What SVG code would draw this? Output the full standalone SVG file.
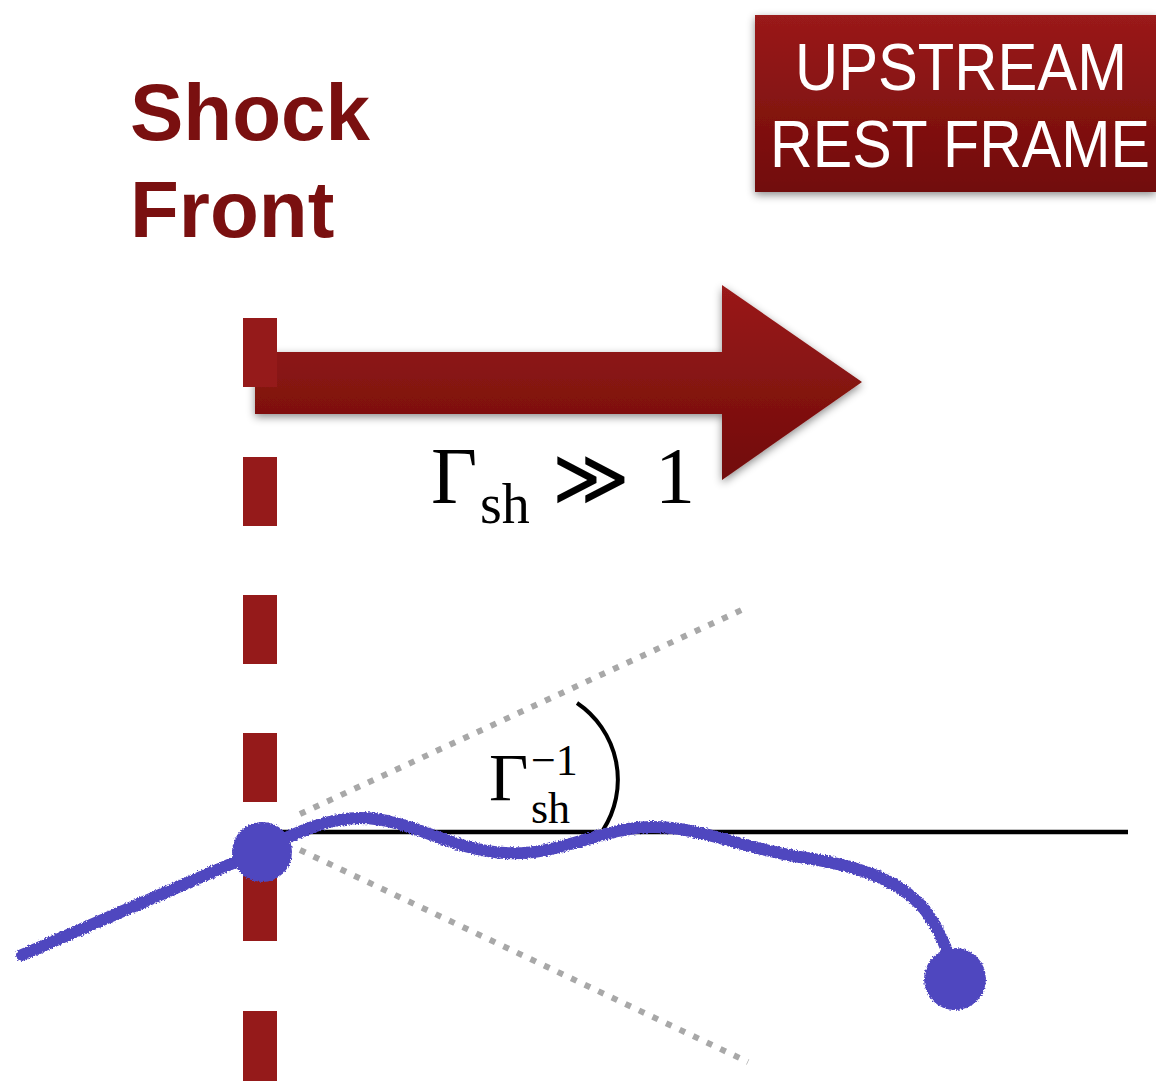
<svg xmlns="http://www.w3.org/2000/svg" width="1156" height="1081" viewBox="0 0 1156 1081">
<style>
.dash{fill:#951a1a}
.title{font-family:"Liberation Sans",Arial,sans-serif;font-weight:bold;fill:#7a1010;font-size:80px}
.box{font-family:"Liberation Sans",Arial,sans-serif;fill:#ffffff;font-size:66px}
.math{font-family:"Liberation Serif","DejaVu Serif",serif;fill:#000}
.traj{fill:none;stroke:#5046bf;stroke-width:12;stroke-linecap:round;stroke-linejoin:round}
.dot{fill:none;stroke:#a8a8a8;stroke-width:6;stroke-dasharray:6 9}
</style>
<defs>
<linearGradient id="redg" x1="0" y1="0" x2="0" y2="1">
<stop offset="0" stop-color="#9a1a1a"/>
<stop offset="1" stop-color="#710c09"/>
</linearGradient>
<filter id="shadow" x="-10%" y="-20%" width="120%" height="140%">
<feDropShadow dx="0" dy="3" stdDeviation="4" flood-color="#000" flood-opacity="0.45"/>
</filter>
<filter id="rough" x="-5%" y="-5%" width="110%" height="110%">
<feTurbulence type="fractalNoise" baseFrequency="0.6" numOctaves="2" seed="3" result="n"/>
<feDisplacementMap in="SourceGraphic" in2="n" scale="4" xChannelSelector="R" yChannelSelector="G"/>
</filter>
</defs>
<rect width="1156" height="1081" fill="#ffffff"/>

<g id="frame-box">
<rect x="755" y="15" width="401" height="177" fill="url(#redg)" filter="url(#shadow)"/>
<text class="box" x="795" y="90" textLength="332" lengthAdjust="spacingAndGlyphs">UPSTREAM</text>
<text class="box" x="770" y="167" textLength="380" lengthAdjust="spacingAndGlyphs">REST FRAME</text>
</g>

<g id="shock-label">
<text class="title" x="130" y="140">Shock</text>
<text class="title" x="130" y="237">Front</text>
</g>

<g id="arrow">
<path d="M255,352 H722 V285 L862,382 L722,480 V414 H255 Z" fill="url(#redg)" filter="url(#shadow)"/>
</g>

<g id="shock-front">
<rect class="dash" x="243" y="318" width="34" height="69"/>
<rect class="dash" x="243" y="457" width="34" height="69"/>
<rect class="dash" x="243" y="595" width="34" height="69"/>
<rect class="dash" x="243" y="733" width="34" height="69"/>
<rect class="dash" x="243" y="872" width="34" height="69"/>
<rect class="dash" x="243" y="1011" width="34" height="70"/>
</g>

<g id="gamma-label">
<text class="math" x="431" y="503" font-size="80">Γ</text>
<text class="math" x="480" y="523" font-size="56">sh</text>
<text class="math" x="552" y="505" font-size="80" textLength="78" lengthAdjust="spacingAndGlyphs">≫</text>
<text class="math" x="655" y="503" font-size="80">1</text>
</g>

<g id="connectors">
<line class="dot" x1="300" y1="814" x2="748" y2="607"/>
<line class="dot" x1="300" y1="850" x2="748" y2="1062"/>
<line x1="270" y1="832" x2="1128" y2="832" stroke="#000" stroke-width="4.5"/>
<path d="M577,703 A92.5,92.5 0 0,1 603,830" fill="none" stroke="#000" stroke-width="4"/>
</g>

<g id="angle-label">
<text class="math" x="489" y="800" font-size="68">Γ</text>
<text class="math" x="531" y="823" font-size="44">sh</text>
<text class="math" x="531" y="775" font-size="44">−1</text>
</g>

<g id="trajectory" filter="url(#rough)">
<path class="traj" d="M22,955 L240,860"/>
<path class="traj" d="M262,850 C300,830 330,818 360,818 C410,818 450,850 505,853 C560,856 600,828 650,827 C700,826 740,848 800,857 C860,866 900,880 925,910 C940,930 948,950 955,975"/>
<circle cx="262" cy="852" r="30" fill="#5046bf"/>
<circle cx="955" cy="979" r="31" fill="#5046bf"/>
</g>
</svg>
